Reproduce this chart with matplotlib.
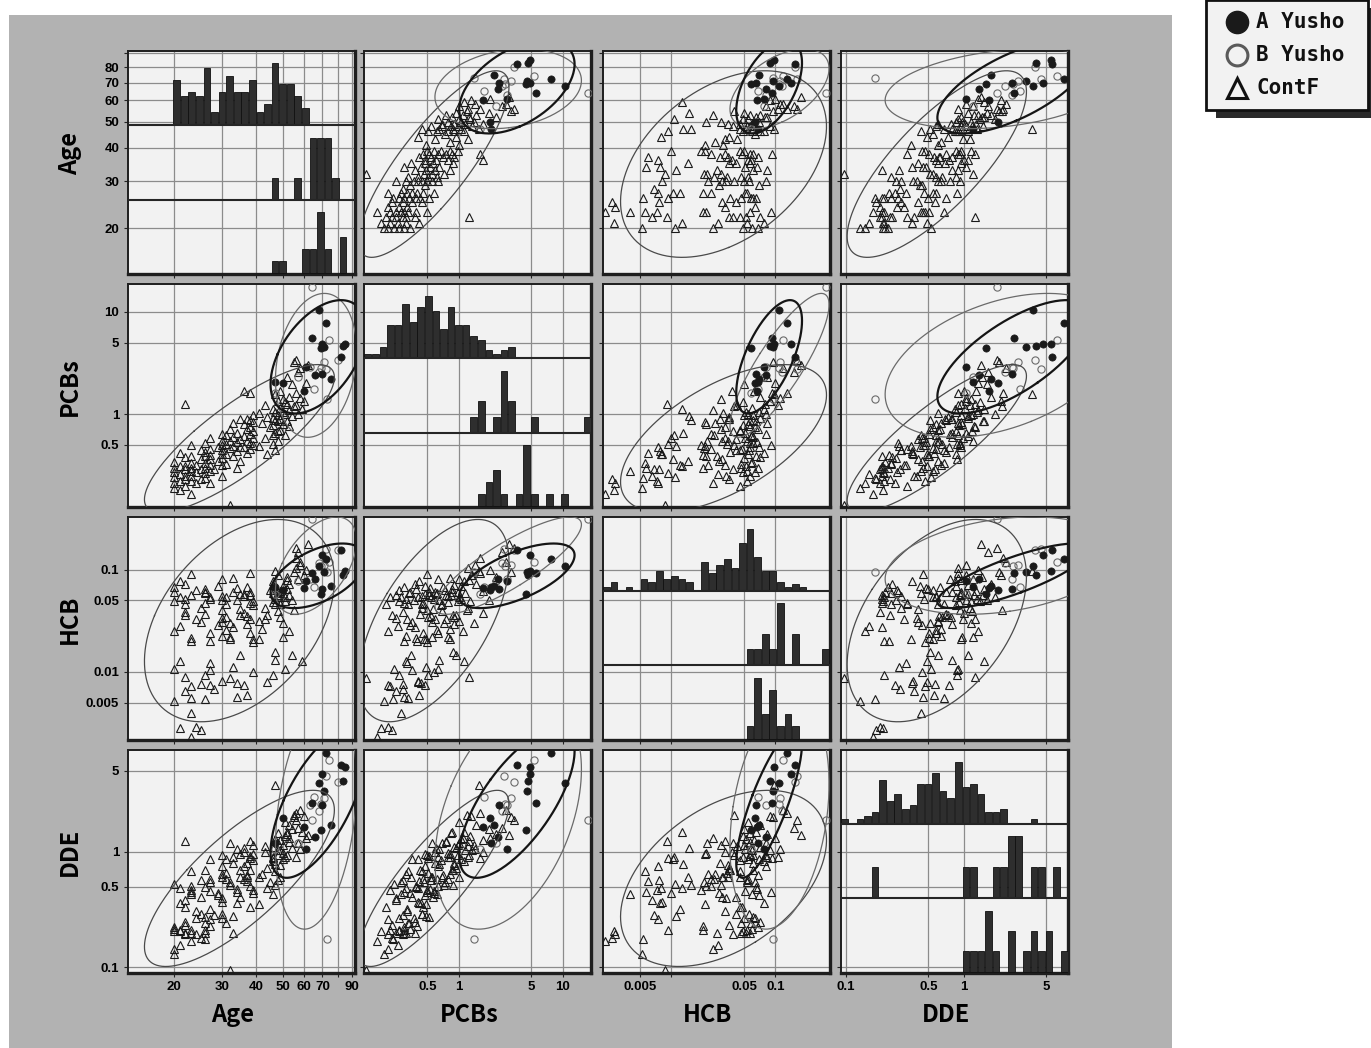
import numpy as np
import matplotlib
matplotlib.use("Agg")
import matplotlib.pyplot as plt
from matplotlib.patches import Rectangle
from matplotlib.lines import Line2D
from matplotlib.transforms import blended_transform_factory

# ---------------------------------------------------------------- data
# one entry per subject; concentrations are plotted on log axes
contf_age = [
    23, 21, 20, 22, 24, 20, 23, 21, 25, 22, 20, 23, 22, 21, 24, 20, 23, 22, 25, 20,
    23, 21, 22, 24, 23, 20, 25, 22, 23, 21, 25, 23, 22,
    27, 26, 30, 26, 27, 28, 26, 30, 27, 26, 29, 27, 30, 26, 27, 30, 26, 30, 27, 29,
    30, 26, 30, 27, 30,
    32, 34, 31, 35, 33, 31, 34, 32, 35, 33, 31, 34, 32, 35, 33, 31, 34, 32, 33, 35,
    37, 38, 36, 39, 38, 37, 39, 36, 38, 39, 37, 38, 36, 39, 38, 37, 39, 38, 36,
    44, 47, 41, 46, 48, 43, 46, 47, 48, 45, 46, 42, 48, 47, 46, 44, 48, 41, 47, 46,
    43, 48, 47,
    51, 49, 53, 50, 52, 49, 54, 51, 50, 53, 49, 55, 52, 51, 50, 53, 49, 54, 52, 55,
    57, 59, 56, 60, 58, 56, 61, 57, 58, 62, 56,
]
contf_pcbs = [
    0.165, 0.18, 0.19, 0.20, 0.21, 0.21, 0.22, 0.22, 0.23, 0.23, 0.24, 0.25, 0.25,
    0.26, 0.27, 0.27, 0.28, 0.29, 0.29, 0.30, 0.30, 0.31, 0.31, 0.32, 0.33, 0.34,
    0.36, 0.38, 0.39, 0.42, 0.45, 0.50, 1.25,
    0.21, 0.235, 0.25, 0.265, 0.28, 0.29, 0.30, 0.315, 0.32, 0.335, 0.345, 0.36,
    0.375, 0.39, 0.40, 0.41, 0.43, 0.45, 0.46, 0.48, 0.50, 0.52, 0.55, 0.58, 0.64,
    0.128, 0.30, 0.325, 0.35, 0.385, 0.41, 0.44, 0.465, 0.475, 0.49, 0.51, 0.53,
    0.55, 0.57, 0.60, 0.62, 0.65, 0.72, 0.82, 0.89,
    0.42, 0.455, 0.48, 0.50, 0.52, 0.545, 0.58, 0.61, 0.64, 0.68, 0.71, 0.75, 0.80,
    0.83, 0.87, 0.90, 0.98, 1.6, 1.7,
    0.41, 0.45, 0.49, 0.51, 0.54, 0.59, 0.62, 0.655, 0.69, 0.74, 0.79, 0.82, 0.85,
    0.88, 0.91, 0.94, 0.98, 1.02, 1.06, 1.12, 1.22, 1.35, 1.58,
    0.63, 0.7, 0.76, 0.8, 0.86, 0.9, 0.95, 1.0, 1.05, 1.1, 1.15, 1.2, 1.26, 1.3,
    1.4, 1.48, 1.7, 1.95, 2.3, 3.2,
    1.0, 1.12, 1.24, 1.33, 1.45, 1.6, 2.0, 2.6, 2.85, 3.05, 3.4,
]
contf_hcb = [
    0.0023, 0.0028, 0.0052, 0.046, 0.0029, 0.025, 0.0073, 0.054, 0.0027, 0.036,
    0.0108, 0.057, 0.0065, 0.028, 0.064, 0.049, 0.004, 0.039, 0.0077, 0.068, 0.02,
    0.0128, 0.052, 0.033, 0.0056, 0.06, 0.031, 0.072, 0.0215, 0.078, 0.042, 0.09,
    0.009,
    0.0074, 0.0054, 0.0335, 0.0094, 0.0535, 0.0068, 0.047, 0.0225, 0.0122, 0.059,
    0.0285, 0.0104, 0.05, 0.065, 0.0202, 0.0081, 0.0365, 0.0555, 0.0242, 0.07,
    0.040, 0.061, 0.031, 0.0515, 0.082,
    0.0088, 0.0057, 0.0465, 0.0145, 0.0278, 0.0545, 0.0078, 0.0208, 0.0575, 0.0112,
    0.0345, 0.066, 0.022, 0.0415, 0.0605, 0.0255, 0.051, 0.030, 0.083, 0.0362,
    0.006, 0.0475, 0.0075, 0.0195, 0.057, 0.035, 0.01, 0.0585, 0.024, 0.0455,
    0.068, 0.033, 0.055, 0.021, 0.0605, 0.0295, 0.0495, 0.092, 0.038,
    0.0079, 0.0458, 0.0212, 0.0093, 0.0538, 0.0328, 0.0595, 0.0131, 0.0395, 0.0635,
    0.0488, 0.0265, 0.0565, 0.0155, 0.0715, 0.036, 0.0612, 0.0312, 0.0518, 0.077,
    0.0425, 0.088, 0.098,
    0.0106, 0.0462, 0.057, 0.0218, 0.0645, 0.0348, 0.0148, 0.0545, 0.069, 0.025,
    0.0598, 0.0405, 0.079, 0.049, 0.0298, 0.072, 0.0618, 0.0505, 0.084, 0.096,
    0.081, 0.0127, 0.105, 0.089, 0.112, 0.13, 0.1, 0.15, 0.119, 0.178, 0.162,
]
contf_dde = [
    0.17, 0.205, 0.13, 0.33, 0.195, 0.145, 0.47, 0.21, 0.18, 0.235, 0.53, 0.20,
    0.38, 0.155, 0.27, 0.205, 0.43, 0.195, 0.57, 0.225, 0.21, 0.49, 0.20, 0.31,
    0.68, 0.215, 0.41, 0.245, 0.51, 0.36, 0.29, 0.45, 1.25,
    0.26, 0.175, 0.40, 0.21, 0.55, 0.285, 0.2, 0.64, 0.32, 0.24, 0.44, 0.87,
    0.265, 0.50, 0.23, 0.37, 0.70, 0.29, 0.58, 0.42, 0.93, 0.275, 0.60, 0.455, 0.76,
    0.095, 0.45, 0.24, 0.60, 0.2, 0.86, 0.36, 0.55, 0.95, 0.28, 0.65, 0.48, 1.2,
    0.41, 0.8, 0.58, 1.05, 0.52, 0.9, 0.69,
    0.56, 0.33, 0.75, 0.47, 0.92, 0.61, 0.44, 1.08, 0.51, 0.85, 0.63, 1.25, 0.58,
    0.95, 0.7, 0.8, 1.15, 0.89, 1.0,
    0.49, 0.68, 0.355, 0.875, 0.575, 0.99, 0.43, 0.79, 1.18, 0.55, 0.905, 0.64,
    1.45, 0.52, 1.09, 0.73, 0.945, 0.605, 1.28, 0.84, 1.13, 1.04, 3.8,
    0.9, 0.6, 1.21, 0.97, 1.49, 0.77, 1.08, 1.82, 0.86, 1.31, 1.03, 2.1, 0.94,
    1.37, 1.14, 1.7, 1.27, 1.58, 1.43, 1.98,
    1.2, 1.47, 0.9, 2.05, 1.05, 2.15, 1.32, 1.6, 2.28, 1.4, 1.9,
]

a_age = [68, 72, 64, 70, 71, 85, 83, 82, 61, 47, 66, 70, 75, 50, 60, 69]
a_pcbs = [10.5, 7.8, 5.5, 4.85, 4.5, 4.85, 4.65, 3.65, 2.9, 2.05, 2.4, 2.45, 2.2,
          2.0, 1.7, 4.4]
a_hcb = [0.108, 0.128, 0.092, 0.14, 0.095, 0.098, 0.089, 0.155, 0.078, 0.068,
         0.082, 0.065, 0.07, 0.064, 0.066, 0.058]
a_dde = [3.9, 7.1, 2.65, 4.7, 3.35, 5.45, 4.1, 5.6, 1.05, 1.2, 1.34, 2.55, 1.7,
         1.95, 1.65, 1.55]

b_age = [64, 74, 80, 71, 72, 69, 68, 63, 57, 65, 47, 73]
b_pcbs = [17.5, 5.3, 3.4, 3.2, 2.75, 2.8, 2.6, 2.9, 2.3, 1.75, 1.6, 1.4]
b_hcb = [0.31, 0.118, 0.155, 0.112, 0.16, 0.108, 0.115, 0.082, 0.078, 0.068,
         0.058, 0.095]
b_dde = [1.9, 6.2, 4.0, 2.9, 4.5, 2.6, 2.25, 2.55, 1.2, 3.0, 1.05, 0.176]

VARIABLES = ["Age", "PCBs", "HCB", "DDE"]
GROUPS = ["A Yusho", "B Yusho", "ContF"]

# axis ranges, gridlines and labelled ticks
LIMITS = {"Age": (13.49, 91.83), "PCBs": (0.1233, 18.75),
          "HCB": (0.002184, 0.3314), "DDE": (0.0904, 7.663)}
GRID = {"Age": [20, 30, 40, 50, 60, 70, 80, 90], "PCBs": [0.5, 1, 5, 10],
        "HCB": [0.005, 0.01, 0.05, 0.1], "DDE": [0.1, 0.5, 1, 5]}
Y_LABELLED = {"Age": [20, 30, 40, 50, 60, 70, 80], "PCBs": [0.5, 1, 5, 10],
              "HCB": [0.005, 0.01, 0.05, 0.1], "DDE": [0.1, 0.5, 1, 5]}
X_LABELLED = {"Age": [20, 30, 40, 50, 60, 70, 90], "PCBs": [0.5, 1, 5, 10],
              "HCB": [0.005, 0.05, 0.1], "DDE": [0.1, 0.5, 1, 5]}
N_BINS = 30

data = {
    "ContF": dict(zip(VARIABLES, map(np.array, [contf_age, contf_pcbs, contf_hcb, contf_dde]))),
    "A Yusho": dict(zip(VARIABLES, map(np.array, [a_age, a_pcbs, a_hcb, a_dde]))),
    "B Yusho": dict(zip(VARIABLES, map(np.array, [b_age, b_pcbs, b_hcb, b_dde]))),
}

marker_style = {
    "ContF": dict(marker="^", ms=5.4, mfc="none", mec="#1a1a1a", mew=0.8),
    "B Yusho": dict(marker="o", ms=5.2, mfc="none", mec="#6a6a6a", mew=0.8),
    "A Yusho": dict(marker="o", ms=5.2, mfc="#1a1a1a", mec="#1a1a1a", mew=0.5),
}
ellipse_style = {
    "ContF": dict(color="#4a4a4a", lw=0.9),
    "B Yusho": dict(color="#6a6a6a", lw=0.9),
    "A Yusho": dict(color="#151515", lw=1.6),
}

TICK_FONT = dict(family=["Liberation Sans", "DejaVu Sans"], weight="bold", size=9.5)
TITLE_FONT = dict(family=["Noto Sans CJK JP", "DejaVu Sans"], size=17, weight="bold")


def density_ellipse(x, y, k=2.4477, n=240):
    """95% normal ellipse of log10(x), log10(y), back on the raw scale."""
    lx, ly = np.log10(x), np.log10(y)
    mu = np.array([lx.mean(), ly.mean()])
    vals, vecs = np.linalg.eigh(np.cov(lx, ly))
    t = np.linspace(0, 2 * np.pi, n)
    pts = vecs @ (np.sqrt(vals)[:, None] * np.vstack([np.cos(t), np.sin(t)])) * k
    pts += mu[:, None]
    return 10 ** pts[0], 10 ** pts[1]


def fmt(v):
    return f"{v:g}"


# ---------------------------------------------------------------- layout
W, H = 1371, 1048
fig = plt.figure(figsize=(W / 100, H / 100), dpi=100)
fig.patch.set_facecolor("white")

# grey plate behind the matrix
plate = fig.add_axes([9 / W, 0, (1172 - 9) / W, (H - 15) / H], zorder=-5)
plate.set_facecolor("#b2b2b2")
plate.set_xticks([])
plate.set_yticks([])
for sp in plate.spines.values():
    sp.set_visible(False)

col_left = [127.5, 364, 602.5, 841]
row_top = [51, 284, 516.5, 749.5]
pw, ph = 227, 223

for i, yvar in enumerate(VARIABLES):
    for j, xvar in enumerate(VARIABLES):
        ax = fig.add_axes([col_left[j] / W, 1 - (row_top[i] + ph) / H, pw / W, ph / H])
        ax.set_facecolor("#f2f2f2")
        ax.set_xscale("log")
        ax.set_yscale("log")
        ax.set_xlim(*LIMITS[xvar])
        ax.set_ylim(*LIMITS[yvar])
        ax.minorticks_off()
        ax.set_xticks(GRID[xvar])
        ax.set_yticks(GRID[yvar])
        ax.set_xticklabels([fmt(v) if v in X_LABELLED[xvar] else "" for v in GRID[xvar]],
                           **TICK_FONT)
        ax.set_yticklabels([fmt(v) if v in Y_LABELLED[yvar] else "" for v in GRID[yvar]],
                           **TICK_FONT)
        ax.tick_params(direction="out", length=3, width=0.8, color="#222222",
                       labelbottom=(i == 3), labelleft=(j == 0), pad=3)
        ax.grid(True, color="#8c8c8c", lw=0.9)
        ax.set_axisbelow(True)
        for side, sp in ax.spines.items():
            sp.set_color("#1e1e1e")
            sp.set_linewidth(2.4 if side in ("right", "bottom") else 1.4)

        if i == j:
            # three stacked histograms: ContF on top, B Yusho, A Yusho at the bottom
            lo, hi = np.log10(LIMITS[xvar])
            edges = np.linspace(lo, hi, N_BINS + 1)
            trans = blended_transform_factory(ax.transData, ax.transAxes)
            shrink = 0.06 * (edges[1] - edges[0])
            for band, grp in enumerate(GROUPS):
                counts, _ = np.histogram(np.log10(data[grp][xvar]), bins=edges)
                base = band / 3
                scale = 0.82 / 3 / counts.max()
                for c, l, r in zip(counts, edges[:-1], edges[1:]):
                    if c == 0:
                        continue
                    x0, x1 = 10 ** (l + shrink), 10 ** (r - shrink)
                    ax.add_patch(Rectangle((x0, base + 0.004), x1 - x0, c * scale,
                                           transform=trans, facecolor="#2e2e2e",
                                           edgecolor="#101010", lw=0.6, zorder=3))
                if band > 0:
                    ax.plot([0, 1], [base, base], transform=ax.transAxes,
                            color="#262626", lw=1.5, zorder=4)
        else:
            for grp in ["ContF", "B Yusho", "A Yusho"]:
                x, y = data[grp][xvar], data[grp][yvar]
                ax.plot(x, y, ls="none", zorder=3, **marker_style[grp])
            for grp in ["ContF", "B Yusho", "A Yusho"]:
                ex, ey = density_ellipse(data[grp][xvar], data[grp][yvar])
                ax.plot(ex, ey, zorder=4, **ellipse_style[grp])

# axis titles
for k, var in enumerate(VARIABLES):
    xc = col_left[k] + pw / 2 - 8
    fig.text(xc / W, 1 - 1015 / H, var, ha="center", va="center", **TITLE_FONT)
    yc = row_top[k] + ph / 2 - 9
    fig.text(70 / W, 1 - yc / H, var, ha="center", va="center", rotation=90,
             **TITLE_FONT)

# legend box with drop shadow
leg = fig.add_axes([1204 / W, 1 - 120 / H, 167 / W, 120 / H])
leg.set_xlim(0, 167)
leg.set_ylim(120, 0)
leg.axis("off")
leg.add_patch(Rectangle((12, 8), 155, 110, facecolor="#2a2a2a", edgecolor="none"))
leg.add_patch(Rectangle((2, 0), 162, 110, facecolor="#f2f2f2", edgecolor="#111111", lw=2))
legend_rows = [("A Yusho", dict(marker="o", ms=16, mfc="#1a1a1a", mec="#1a1a1a")),
               ("B Yusho", dict(marker="o", ms=15, mfc="none", mec="#5a5a5a", mew=2.2)),
               ("ContF", dict(marker="^", ms=15, mfc="none", mec="#111111", mew=2.2))]
for r, (name, style) in enumerate(legend_rows):
    yy = 22 + r * 33
    leg.add_line(Line2D([33], [yy], ls="none", **style))
    leg.text(52, yy, name, va="center", ha="left", fontsize=15, weight="bold",
             family=["DejaVu Sans Mono"], color="#111111")

fig.savefig("out.png", dpi=100)
